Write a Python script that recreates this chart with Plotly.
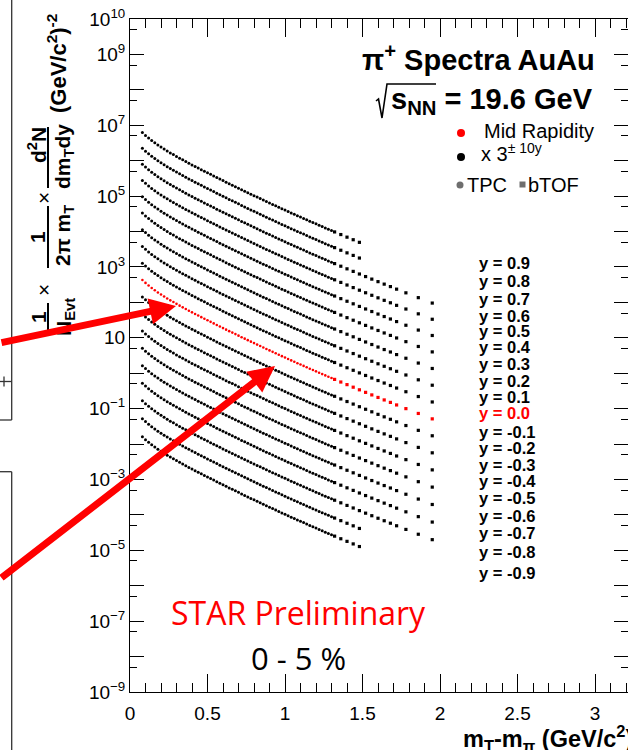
import plotly.graph_objects as go

# ---------------------------------------------------------------- data
# m_T - m_pi bin centres (GeV/c^2) of the dense TPC points
mt_tpc = [0.08, 0.10, 0.12, 0.14, 0.16, 0.18, 0.20, 0.22, 0.24, 0.26,
          0.28, 0.30, 0.32, 0.34, 0.36, 0.38, 0.40, 0.42, 0.44, 0.46,
          0.48, 0.50, 0.52, 0.54, 0.56, 0.58, 0.60, 0.62, 0.64, 0.66,
          0.68, 0.70, 0.72, 0.74, 0.76, 0.78, 0.80, 0.82, 0.84, 0.86,
          0.88, 0.90, 0.92, 0.94, 0.96, 0.98, 1.00, 1.02, 1.04, 1.06,
          1.08, 1.10, 1.12, 1.14, 1.16, 1.18, 1.20, 1.22, 1.24, 1.26,
          1.28, 1.30]
# mid-rapidity pi+ invariant yield at those bins
yield_tpc = [427, 354, 298, 254, 219, 190, 166, 146, 129, 114,
             102, 90.7, 80.9, 72.4, 64.9, 58.2, 52.2, 47.1, 42.4, 38.3,
             34.6, 31.2, 28.2, 25.5, 23.0, 20.8, 18.8, 17.0, 15.4, 14.0,
             12.7, 11.5, 10.4, 9.45, 8.58, 7.78, 7.07, 6.43, 5.84, 5.31,
             4.83, 4.40, 4.01, 3.65, 3.33, 3.03, 2.77, 2.52, 2.30, 2.10,
             1.92, 1.76, 1.61, 1.47, 1.34, 1.23, 1.13, 1.03, 0.945, 0.867,
             0.795, 0.729]
# m_T - m_pi bin centres of the bTOF tail and the mid-rapidity yield there
mt_tof = [1.32, 1.36, 1.40, 1.44, 1.48, 1.52, 1.56, 1.60, 1.64, 1.68,
          1.72, 1.78, 1.86, 1.95]
yield_tof = [0.669, 0.564, 0.476, 0.403, 0.340, 0.288, 0.244, 0.207, 0.176,
             0.150, 0.127, 0.100, 0.0731, 0.0514]

# rapidity slices, their yield relative to y = 0, and the last m_T bin reached
rapidity = [0.9, 0.8, 0.7, 0.6, 0.5, 0.4, 0.3, 0.2, 0.1, 0.0,
            -0.1, -0.2, -0.3, -0.4, -0.5, -0.6, -0.7, -0.8, -0.9]
rel_yield = [0.74, 0.80, 0.85, 0.89, 0.93, 0.96, 0.98, 0.99, 1.0, 1.0,
             1.0, 0.99, 0.98, 0.96, 0.93, 0.89, 0.85, 0.80, 0.74]
tof_reach = [1.48, 1.48, 1.95, 1.95, 1.95, 1.95, 1.95, 1.95, 1.95, 1.95,
             1.95, 1.95, 1.95, 1.95, 1.95, 1.95, 1.95, 1.48, 1.48]

slice_labels = ["y = 0.9", "y = 0.8", "y = 0.7", "y = 0.6", "y = 0.5",
                "y = 0.4", "y = 0.3", "y = 0.2", "y = 0.1", "y = 0.0",
                "y = -0.1", "y = -0.2", "y = -0.3", "y = -0.4", "y = -0.5",
                "y = -0.6", "y = -0.7", "y = -0.8", "y = -0.9"]
slice_label_y = [263, 281, 299, 316, 331, 347, 364, 381, 397, 413,
                 432, 448, 465, 481, 498, 516, 533, 552, 573]

x_ticks = [0, 0.5, 1, 1.5, 2, 2.5, 3]
x_ticktext = ["0", "0.5", "1", "1.5", "2", "2.5", "3"]

RED = "#ff0000"
HELV = "Liberation Sans"

# plot-area frame in page pixels
L, R, T, B = 130, 628, 19, 692


def px(x):
    return (x - L) / (R - L)


def py(y):
    return (B - y) / (B - T)


fig = go.Figure()

# ---------------------------------------------------------------- spectra
for y, rel, reach in zip(rapidity, rel_yield, tof_reach):
    scale = rel * 3.0 ** round(10 * y)
    mid = abs(y) < 1e-9
    color = RED if mid else "black"
    fig.add_trace(go.Scatter(
        x=mt_tpc, y=[v * scale for v in yield_tpc], mode="markers",
        marker=dict(symbol="circle", size=2.6 if mid else 3.0, color=color,
                    line=dict(width=0)),
        hoverinfo="skip"))
    tx = [m for m in mt_tof if m <= reach + 1e-9]
    ty = [v * scale for m, v in zip(mt_tof, yield_tof) if m <= reach + 1e-9]
    fig.add_trace(go.Scatter(
        x=tx, y=ty, mode="markers",
        marker=dict(symbol="square", size=3.2, color=color,
                    line=dict(width=0)),
        hoverinfo="skip"))

# ---------------------------------------------------------------- axes
y_major = [10.0 ** n for n in range(-9, 11)]
y_text = []
for n in range(-9, 11):
    if n == 10 or n % 2 == 1:
        y_text.append("10" if n == 1 else
                      "10<sup>" + str(n).replace("-", "\u2212") + "</sup>")
    else:
        y_text.append("")
y_minor = [5 * 10.0 ** n for n in range(-9, 10)]

fig.update_xaxes(
    range=[0, (R - L) / 155.0], showgrid=False, zeroline=False,
    showline=True, linecolor="black", linewidth=1, mirror="allticks",
    ticks="inside", ticklen=18, tickwidth=1, tickcolor="black",
    tickmode="array", tickvals=x_ticks, ticktext=x_ticktext,
    tickfont=dict(family=HELV, size=19, color="black"),
    ticklabelstandoff=4,
    minor=dict(ticks="inside", ticklen=9, tickwidth=1, tickcolor="black",
               dtick=0.1, tick0=0, showgrid=False),
)
fig.update_yaxes(
    type="log", range=[-9, 10], showgrid=False, zeroline=False,
    showline=True, linecolor="black", linewidth=1, mirror="allticks",
    ticks="inside", ticklen=14, tickwidth=1, tickcolor="black",
    tickmode="array", tickvals=y_major, ticktext=y_text,
    tickfont=dict(family=HELV, size=19, color="black"),
    minor=dict(ticks="inside", ticklen=7, tickwidth=1, tickcolor="black",
               tickmode="array", tickvals=y_minor, showgrid=False),
)

fig.update_layout(
    width=628, height=750,
    margin=dict(l=L, r=628 - R, t=T, b=750 - B, pad=0),
    plot_bgcolor="white", paper_bgcolor="white",
    showlegend=False,
    font=dict(family=HELV, color="black"),
)


def label(text, x, y, size, color="black", angle=0, xanchor="center",
          yanchor="middle", family=HELV):
    fig.add_annotation(text=text, x=px(x), y=py(y), xref="paper", yref="paper",
                       showarrow=False, textangle=angle, xanchor=xanchor,
                       yanchor=yanchor, borderpad=0,
                       font=dict(size=size, color=color, family=family))


def seg(x0, y0, x1, y1, color="black", width=1.5):
    fig.add_shape(type="line", xref="paper", yref="paper",
                  x0=px(x0), y0=py(y0), x1=px(x1), y1=py(y1),
                  line=dict(color=color, width=width))


# ---------------------------------------------------------------- titles
label("<b>m<sub>T</sub>-m<sub>\u03c0</sub> (GeV/c<sup>2</sup>)</b>",
      462, 738, 23.5, xanchor="left")

# y-axis title built from rotated pieces and fraction bars
label("<b>1</b>", 38, 317, 21, angle=-90)
seg(48, 303, 48, 331, width=2)
label("<b>N<sub>Evt</sub></b>", 65, 317, 21, angle=-90)
label("\u00d7", 43, 290, 21, angle=-90)
label("<b>1</b>", 38, 237, 21, angle=-90)
seg(48, 206, 48, 268, width=2)
label("<b>2\u03c0 m<sub>T</sub></b>", 64, 236, 21, angle=-90)
label("\u00d7", 43, 198, 21, angle=-90)
label("<b>d<sup>2</sup>N</b>", 37, 145, 21, angle=-90)
seg(48, 127, 48, 188, width=2)
label("<b>dm<sub>T</sub>dy</b>", 64, 157, 21, angle=-90)
label("<b>(GeV/c<sup>2</sup>)<sup>-2</sup></b>", 57, 64, 22, angle=-90)

# header text
label("<b>\u03c0<sup>+</sup> Spectra AuAu</b>", 596, 58, 29, xanchor="right")
label("<b>s<sub>NN</sub> = 19.6 GeV</b>", 594, 101, 29, xanchor="right")
fig.add_shape(type="path", xref="paper", yref="paper",
              path="M {} {} L {} {} L {} {} L {} {} L {} {}".format(
                  px(376), py(101), px(378.5), py(99), px(382), py(118),
                  px(387), py(84), px(436), py(84)),
              line=dict(color="black", width=1.6))

# legend block
def dot(cx, cy, r, color):
    fig.add_shape(type="circle", xref="paper", yref="paper",
                  x0=px(cx - r), x1=px(cx + r), y0=py(cy + r), y1=py(cy - r),
                  fillcolor=color, line=dict(width=0))


dot(461, 133, 4, RED)
label("Mid Rapidity", 483, 131, 20, xanchor="left")
dot(461, 157, 4, "black")
label("x 3<sup>\u00b1 10y</sup>", 480, 153, 20, xanchor="left")
dot(460, 185, 3.5, "#6e6e6e")
label("TPC", 466, 185, 20, xanchor="left")
fig.add_shape(type="rect", xref="paper", yref="paper",
              x0=px(519.5), x1=px(525.5), y0=py(187.5), y1=py(181.5),
              fillcolor="#6e6e6e", line=dict(width=0))
label("bTOF", 527, 185, 20, xanchor="left")

# rapidity slice labels
for txt, ly in zip(slice_labels, slice_label_y):
    label("<b>" + txt + "</b>", 478, ly, 16.5,
          color=RED if txt == "y = 0.0" else "black", xanchor="left")

label("STAR Preliminary", 298, 612, 32, color=RED, family="Open Sans")
label("0 - 5 %", 298, 658, 31, family="Open Sans")

# neighbouring panel edges on the left
seg(11.7, -5, 11.7, 420, color="#333333", width=1.3)
seg(-5, 420, 11.7, 420, color="#333333", width=1.3)
seg(-5, 381.5, 11.7, 381.5, color="#333333", width=1.3)
seg(4, 376.5, 4, 386.5, color="#333333", width=1.3)
seg(-5, 471.7, 11.7, 471.7, color="#333333", width=1.3)
seg(11.7, 471.7, 11.7, 760, color="#333333", width=1.3)

# red pointer arrows
fig.add_annotation(x=(176 - L) / 155.0, y=10 - (306 - T) / 35.42,
                   xref="x", yref="y", text="", showarrow=True,
                   ax=-201, ay=37, arrowcolor=RED, arrowwidth=7,
                   arrowhead=2, arrowsize=0.75, standoff=0)
fig.add_annotation(x=(275 - L) / 155.0, y=10 - (366 - T) / 35.42,
                   xref="x", yref="y", text="", showarrow=True,
                   ax=-300, ay=213, arrowcolor=RED, arrowwidth=7,
                   arrowhead=2, arrowsize=0.75, standoff=0)

fig.write_html("out.html")
